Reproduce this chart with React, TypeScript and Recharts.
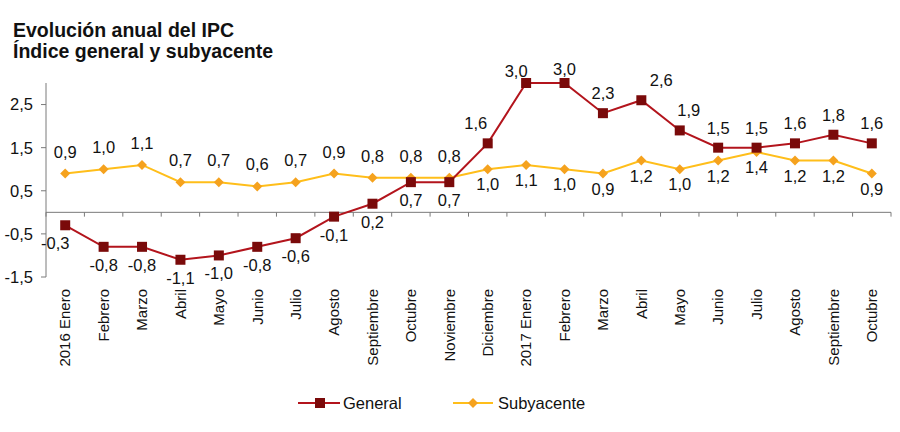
import { LineChart, Line, XAxis, YAxis, ReferenceLine } from 'recharts';

const months = [
  '2016 Enero', 'Febrero', 'Marzo', 'Abril', 'Mayo', 'Junio', 'Julio', 'Agosto',
  'Septiembre', 'Octubre', 'Noviembre', 'Diciembre', '2017 Enero', 'Febrero', 'Marzo',
  'Abril', 'Mayo', 'Junio', 'Julio', 'Agosto', 'Septiembre', 'Octubre',
];
const general = [-0.3, -0.8, -0.8, -1.1, -1.0, -0.8, -0.6, -0.1, 0.2, 0.7, 0.7, 1.6, 3.0, 3.0, 2.3, 2.6, 1.9, 1.5, 1.5, 1.6, 1.8, 1.6];
const subyacente = [0.9, 1.0, 1.1, 0.7, 0.7, 0.6, 0.7, 0.9, 0.8, 0.8, 0.8, 1.0, 1.1, 1.0, 0.9, 1.2, 1.0, 1.2, 1.4, 1.2, 1.2, 0.9];
const yTicks = [-1.5, -0.5, 0.5, 1.5, 2.5];

const data = months.map((m, i) => ({ idx: i, month: m, general: general[i], subyacente: subyacente[i] }));
const monthIdx = months.map((_, i) => i);
const boundaries = [...monthIdx, months.length].map(i => i - 0.5);

const FONT = '"Liberation Sans", Arial, sans-serif';
const RED_LINE = '#b3141c';
const RED_DOT = '#7a0a0a';
const GOLD_LINE = '#ffbe1a';
const GOLD_DOT = '#f5a21e';
const AXIS = '#7a7a7a';

const fmt = (v: number) => v.toFixed(1).replace('.', ',');

const Square = ({ cx, cy }: any) => (
  <rect x={cx - 5} y={cy - 5} width={10} height={10} fill={RED_DOT} />
);
const Diamond = ({ cx, cy }: any) => (
  <path d={`M${cx},${cy - 5}L${cx + 5},${cy}L${cx},${cy + 5}L${cx - 5},${cy}Z`} fill={GOLD_DOT} />
);

// small hand nudges like the original Excel labels
const nudgeGeneral: Record<number, [number, number]> = {
  0: [-10, 0], 11: [-12, 0], 12: [-10, 8], 13: [0, 6], 15: [20, 0], 16: [9, 0],
};

const GeneralLabel = (props: any) => {
  const { x, y, value, index } = props;
  const below = index <= 10;
  const [dx, dy] = nudgeGeneral[index] ?? [0, 0];
  return (
    <text x={x + dx} y={y + (below ? 18 : -20) + dy} textAnchor="middle" dominantBaseline="central"
      fontSize={16.5} fontFamily={FONT} fill="#111">{fmt(value)}</text>
  );
};

const SubLabel = (props: any) => {
  const { x, y, value, index } = props;
  const above = index <= 10;
  return (
    <text x={x} y={y + (above ? -22 : 15)} textAnchor="middle" dominantBaseline="central"
      fontSize={16.5} fontFamily={FONT} fill="#111">{fmt(value)}</text>
  );
};

const MonthTick = ({ x, y, payload }: any) => (
  <text transform={`translate(${x},${y}) rotate(-90)`} textAnchor="end" dy="0.35em"
    fontSize={15} fontFamily={FONT} fill="#111">{months[payload.value]}</text>
);

export default function App() {
  return (
    <div style={{ position: 'absolute', left: 0, top: 0, width: 900, height: 432, background: '#fff' }}>
      <svg width={900} height={70} style={{ position: 'absolute', left: 0, top: 0 }}>
        <text x={13} y={37} fontSize={19.5} fontWeight="bold" fontFamily={FONT} fill="#111">Evolución anual del IPC</text>
        <text x={13} y={58} fontSize={19.5} fontWeight="bold" fontFamily={FONT} fill="#111">Índice general y subyacente</text>
      </svg>
      <div style={{ position: 'absolute', left: 0, top: 0 }}>
        <LineChart width={900} height={432} data={data} margin={{ top: 83, right: 9, left: 0, bottom: 5 }}>
          <XAxis type="number" dataKey="idx" domain={[-0.5, months.length - 0.5]} ticks={monthIdx}
            axisLine={false} tickLine={false} tickSize={6} tickMargin={6} height={150}
            interval={0} tick={<MonthTick />} />
          <YAxis type="number" domain={[-1.5, 3]} ticks={yTicks} width={46} stroke={AXIS}
            tickSize={5} tickMargin={8} tickFormatter={fmt}
            tick={{ fontSize: 16.5, fontFamily: FONT, fill: '#111' }} />
          <ReferenceLine y={0} stroke={AXIS} strokeWidth={1} />
          {boundaries.map(b => (
            <ReferenceLine key={b} segment={[{ x: b, y: 0 }, { x: b, y: -0.1 }]} stroke={AXIS} strokeWidth={1} />
          ))}
          <Line type="linear" dataKey="subyacente" stroke={GOLD_LINE} strokeWidth={2}
            dot={<Diamond />} activeDot={false} label={<SubLabel />} isAnimationActive={false} />
          <Line type="linear" dataKey="general" stroke={RED_LINE} strokeWidth={2}
            dot={<Square />} activeDot={false} label={<GeneralLabel />} isAnimationActive={false} />
        </LineChart>
      </div>
      <svg width={900} height={40} style={{ position: 'absolute', left: 0, top: 385 }}>
        <line x1={298} x2={340} y1={18} y2={18} stroke={RED_LINE} strokeWidth={2} />
        <Square cx={320} cy={18} />
        <text x={343} y={23.5} fontSize={16.5} fontFamily={FONT} fill="#111">General</text>
        <line x1={453} x2={493} y1={18} y2={18} stroke={GOLD_LINE} strokeWidth={2} />
        <Diamond cx={473} cy={18} />
        <text x={498} y={23.5} fontSize={16.5} fontFamily={FONT} fill="#111">Subyacente</text>
      </svg>
    </div>
  );
}
